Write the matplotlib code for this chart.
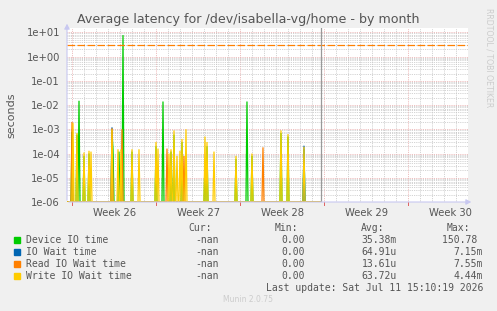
import numpy as np
import matplotlib
matplotlib.use("Agg")
import matplotlib.pyplot as plt
from matplotlib.ticker import FixedLocator, FixedFormatter

# ---------------- data ----------------
title = "Average latency for /dev/isabella-vg/home - by month"
week_labels = ["Week 26", "Week 27", "Week 28", "Week 29", "Week 30"]
week_starts = [0, 7, 14, 21, 28]          # days since start of week 26
x_start, x_end = -0.44, 32.98             # visible range (days)
now_day = 20.7                            # last update position
sample_step = 1 / 12                      # 2-hour samples
threshold = 3.0                           # dashed limit line

# spikes: (day, seconds)
device_days = [0.0, 0.42, 0.58, 0.98, 1.43, 3.27, 3.39, 3.9, 4.25, 4.98, 7.0, 7.58, 8.25, 8.48,
               9.17, 11.06, 11.2, 13.64, 14.58, 15.0, 17.39, 18.0, 19.33]
device_vals = [8e-4, 6e-4, 1.5e-2, 8e-5, 1.0e-4, 8e-4, 1.5e-4, 1.2e-4, 7.7, 1.2e-4, 2e-4, 1.4e-2, 1.2e-4, 6e-4,
               3e-4, 5e-5, 2e-4, 6e-5, 1.4e-2, 8e-5, 7e-4, 5e-4, 1.5e-4]
iowait_days = [3.27, 19.33]
iowait_vals = [1.2e-3, 2.1e-4]
read_days = [0.0, 3.27, 4.14, 7.92, 9.31, 15.89]
read_vals = [2.0e-3, 1.1e-3, 1.0e-3, 1.6e-4, 8e-5, 1.8e-4]
write_days = [0.03, 0.42, 0.98, 1.43, 1.52, 3.31, 3.85, 4.02, 4.98, 5.58, 7.0, 7.17, 8.06, 8.25,
              8.48, 8.7, 8.98, 9.17, 9.5, 11.06, 11.2, 11.83, 13.64, 15.0, 17.39, 18.0, 19.33]
write_vals = [1.8e-3, 7e-4, 1.1e-4, 1.3e-4, 1.2e-4, 1.0e-3, 1.5e-4, 1.5e-4, 1.5e-4, 1.5e-4, 3e-4, 1.6e-4, 1e-4, 1.5e-4,
              9e-4, 8e-5, 1.3e-4, 4e-4, 1.0e-3, 5e-4, 3e-4, 1.2e-4, 8e-5, 1e-4, 9e-4, 6.3e-4, 1.9e-4]

series_names = ["Device IO time", "IO Wait time", "Read IO Wait time", "Write IO Wait time"]
series_colors = ["#00CC00", "#0066B3", "#FF8000", "#FFCC00"]
cur_vals = ["-nan", "-nan", "-nan", "-nan"]
min_vals = ["0.00", "0.00", "0.00", "0.00"]
avg_vals = ["35.38m", "64.91u", "13.61u", "63.72u"]
max_vals = ["150.78 ", "7.15m", "7.55m", "4.44m"]
last_update = "Last update: Sat Jul 11 15:10:19 2026"

# ---------------- figure ----------------
W, H = 497, 311
fig = plt.figure(figsize=(W / 100, H / 100), dpi=100, facecolor="#F0F0F0")

px_l, px_r, px_t, px_b = 67, 468, 28, 202
ax = fig.add_axes([px_l / W, 1 - px_b / H, (px_r - px_l) / W, (px_b - px_t) / H])
ax.set_facecolor("white")
ax.set_yscale("log")
ymin = 1e-6
ymax = 10 ** (1 + 4.3 / 24.14)
ax.set_ylim(ymin, ymax)
ax.set_xlim(x_start, x_end)

for s in ax.spines.values():
    s.set_visible(False)

# grid
grid_gray = "#c4c4c4"
grid_red = "#e8a8a8"
for d in np.arange(np.ceil(x_start), x_end, 1):
    if int(round(d)) % 7 != 0:
        ax.axvline(d, color=grid_gray, lw=0.6, ls=(0, (1, 1.2)), zorder=1)
for d in week_starts:
    ax.axvline(d, color=grid_red, lw=0.6, ls=(0, (1, 1.2)), zorder=1)
for e in range(-6, 2):
    for m in range(2, 10):
        v = m * 10.0 ** e
        if v < ymax:
            ax.axhline(v, color=grid_gray, lw=0.6, ls=(0, (1, 1.2)), zorder=1)
    ax.axhline(10.0 ** e, color=grid_red, lw=0.6, ls=(0, (1, 1.2)), zorder=1)

# build sampled series
t = np.arange(x_start, now_day, sample_step)

def build(days, vals):
    y = np.zeros_like(t)
    for d, v in zip(days, vals):
        i = int(round((d - x_start) / sample_step))
        y[i] = max(y[i], v)
    return np.where(y > 0, y, ymin)

all_series = [build(device_days, device_vals), build(iowait_days, iowait_vals),
              build(read_days, read_vals), build(write_days, write_vals)]
for y, c in zip(all_series, series_colors):
    ax.plot(t, y, color=c, lw=0.9, zorder=3, solid_joinstyle="miter")

# threshold and now line
ax.axhline(threshold, color="#FF8000", lw=0.9, ls=(0, (6, 2)), zorder=4)
ax.axvline(now_day, color="#999999", lw=0.9, zorder=4)

# ticks
ax.yaxis.set_major_locator(FixedLocator([10.0 ** e for e in range(-6, 2)]))
ax.yaxis.set_minor_locator(FixedLocator([]))
ax.yaxis.set_major_formatter(FixedFormatter(["1e-06", "1e-05", "1e-04", "1e-03", "1e-02", "1e-01", "1e+00", "1e+01"]))
ax.tick_params(axis="y", length=0, pad=5, labelsize=7.2, labelcolor="#555555")
ax.set_xticks([w + 3.5 for w in week_starts])
ax.set_xticklabels(week_labels)
ax.tick_params(axis="x", length=0, pad=4, labelsize=7.2, labelcolor="#555555")
for w in week_starts:
    ax.plot([w, w], [0, -3 / (px_b - px_t)], transform=ax.get_xaxis_transform(),
            color="#e06060", lw=0.7, clip_on=False, zorder=5)

fig.text(11 / W, 1 - 115 / H, "seconds", rotation=90, ha="center", va="center",
         fontsize=8, color="#555555")

# axis arrows
arrow_col = "#C8C8F0"
fig.add_artist(matplotlib.patches.FancyArrowPatch(
    (px_l / W, 1 - (px_b + 1) / H), (px_l / W, 1 - 21 / H), transform=fig.transFigure,
    arrowstyle="-|>,head_length=3,head_width=1.6", color=arrow_col, lw=0.8, mutation_scale=1))
fig.add_artist(matplotlib.patches.FancyArrowPatch(
    ((px_l - 1) / W, 1 - px_b / H), (474 / W, 1 - px_b / H), transform=fig.transFigure,
    arrowstyle="-|>,head_length=3,head_width=1.6", color=arrow_col, lw=0.8, mutation_scale=1))

# title
fig.text(248 / W, 1 - 19 / H, title, ha="center", va="center", fontsize=9.1, color="#555555")
fig.text(489 / W, 1 - 58 / H, "RRDTOOL / TOBI OETIKER", rotation=270, ha="center", va="center",
         fontsize=5.6, color="#cccccc")

# legend
mono = "DejaVu Sans Mono"
lc = "#555555"
fig.text(212 / W, 1 - 228 / H, "Cur:", ha="right", va="center", fontsize=7, family=mono, color=lc)
fig.text(298 / W, 1 - 228 / H, "Min:", ha="right", va="center", fontsize=7, family=mono, color=lc)
fig.text(384 / W, 1 - 228 / H, "Avg:", ha="right", va="center", fontsize=7, family=mono, color=lc)
fig.text(470 / W, 1 - 228 / H, "Max:", ha="right", va="center", fontsize=7, family=mono, color=lc)
row_y = [240, 252, 264, 276]
for i, name in enumerate(series_names):
    yy = 1 - row_y[i] / H
    fig.add_artist(matplotlib.patches.Rectangle((14 / W, 1 - (row_y[i] + 3) / H), 6 / W, 6 / H,
                                                transform=fig.transFigure, color=series_colors[i]))
    fig.text(26 / W, yy, name, ha="left", va="center", fontsize=7, family=mono, color=lc)
    fig.text(219 / W, yy, cur_vals[i], ha="right", va="center", fontsize=7, family=mono, color=lc)
    fig.text(305 / W, yy, min_vals[i], ha="right", va="center", fontsize=7, family=mono, color=lc)
    fig.text(397 / W, yy, avg_vals[i], ha="right", va="center", fontsize=7, family=mono, color=lc)
    fig.text(483 / W, yy, max_vals[i], ha="right", va="center", fontsize=7, family=mono, color=lc)
fig.text(483 / W, 1 - 288 / H, last_update, ha="right", va="center", fontsize=7, family=mono, color=lc)
fig.text(248 / W, 1 - 300 / H, "Munin 2.0.75", ha="center", va="center", fontsize=5.5, color="#cccccc")

fig.savefig("out.png", dpi=100, facecolor=fig.get_facecolor())
